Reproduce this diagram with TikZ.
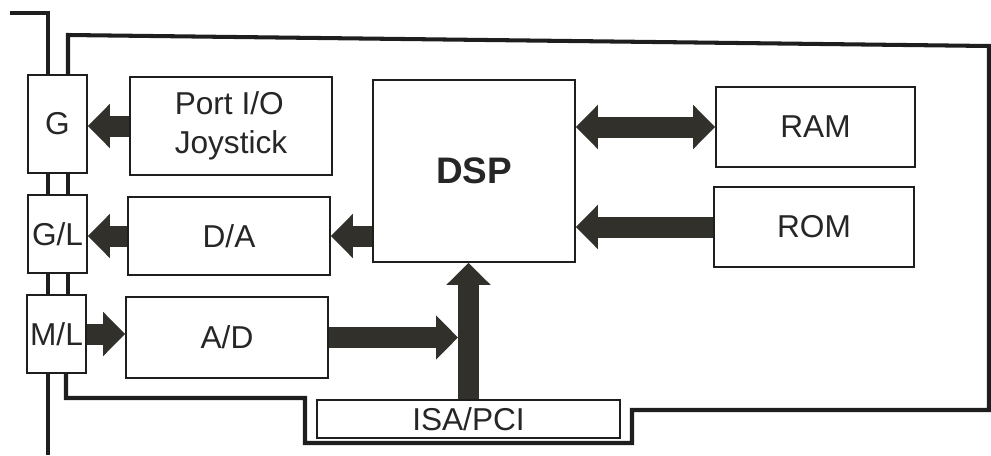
\documentclass[tikz,border=0pt]{standalone}
\usepackage{fontspec}
\setmainfont{Liberation Sans}
\usetikzlibrary{arrows.meta}
\definecolor{arrowgray}{RGB}{50,48,42}
\definecolor{linegray}{RGB}{30,30,30}
\tikzset{
  box/.style={draw=linegray, line width=1pt, inner sep=0pt,
    text=black!85, font=\fontsize{18}{22}\selectfont},
  bigarrow/.style={line width=4.2mm, draw=arrowgray,
    -{Triangle[length=4.4mm, width=8.6mm]}},
  bigarrows/.style={line width=4.2mm, draw=arrowgray,
    {Triangle[length=4.4mm, width=8.6mm]}-{Triangle[length=4.4mm, width=8.6mm]}},
  card/.style={draw=linegray, line width=2.3pt}
}
\begin{document}
\begin{tikzpicture}[x=0.2mm, y=-0.2mm]
    \useasboundingbox (0,0) rectangle (991,455);

    % Connectors on the left edge
    \node[box, minimum width=11.8mm, minimum height=19.6mm] (g) at (57.5,124) {G};
    \node[box, minimum width=11.8mm, minimum height=15.6mm] (gl) at (57.5,234) {G/L};
    \node[box, minimum width=11.8mm, minimum height=15.6mm] (ml) at (56.5,334) {M/L};

    % Blocks on the card
    \node[box, minimum width=40.4mm, minimum height=19.6mm, align=left] (port) at (231,126) {Port I/O\\Joystick};
    \node[box, minimum width=40.4mm, minimum height=15.6mm] (da) at (229,236) {D/A};
    \node[box, minimum width=40.4mm, minimum height=16.2mm] (ad) at (227,337.5) {A/D};
    \node[box, minimum width=40.4mm, minimum height=36.4mm, font=\fontsize{21}{24}\selectfont\bfseries] (dsp) at (474,171) {DSP};
    \node[box, minimum width=39.8mm, minimum height=16mm] (ram) at (815.5,127) {RAM};
    \node[box, minimum width=40mm, minimum height=16mm] (rom) at (814,227) {ROM};
    \node[box, minimum width=60.6mm, minimum height=7.6mm] (isa) at (468.5,419) {ISA/PCI};

    % Outline of the card
    \draw[card] (10,13) -- (48,13) -- (g.north -| 48,0);
    \draw[card] (48,173) -- (48,195);
    \draw[card] (48,273) -- (48,295);
    \draw[card] (48,373) -- (48,455);
    \draw[card] (68,75) -- (68,35) -- (989,46) -- (989,410) -- (632,410)
        -- (632,443) -- (305,443) -- (305,398) -- (66,398) -- (66,373);
    \draw[card] (68,173) -- (68,195);
    \draw[card] (68,273) -- (68,295);

    % Data paths
    \draw[bigarrow] (port.west) -- (port.west -| g.east);
    \draw[bigarrow] (da.west) -- (da.west -| gl.east);
    \draw[bigarrow] (ml.east) -- (ml.east -| ad.west);
    \draw[bigarrow] (dsp.west |- da) -- (da.east);
    \draw[bigarrow] (isa.north) -- (isa.north |- dsp.south);
    \draw[bigarrow] (ad.east) -- ([xshift=-2.1mm]ad.east -| isa.north);
    \draw[bigarrows] (dsp.east |- ram) -- (ram.west);
    \draw[bigarrow] (rom.west) -- (rom.west -| dsp.east);
\end{tikzpicture}
\end{document}
